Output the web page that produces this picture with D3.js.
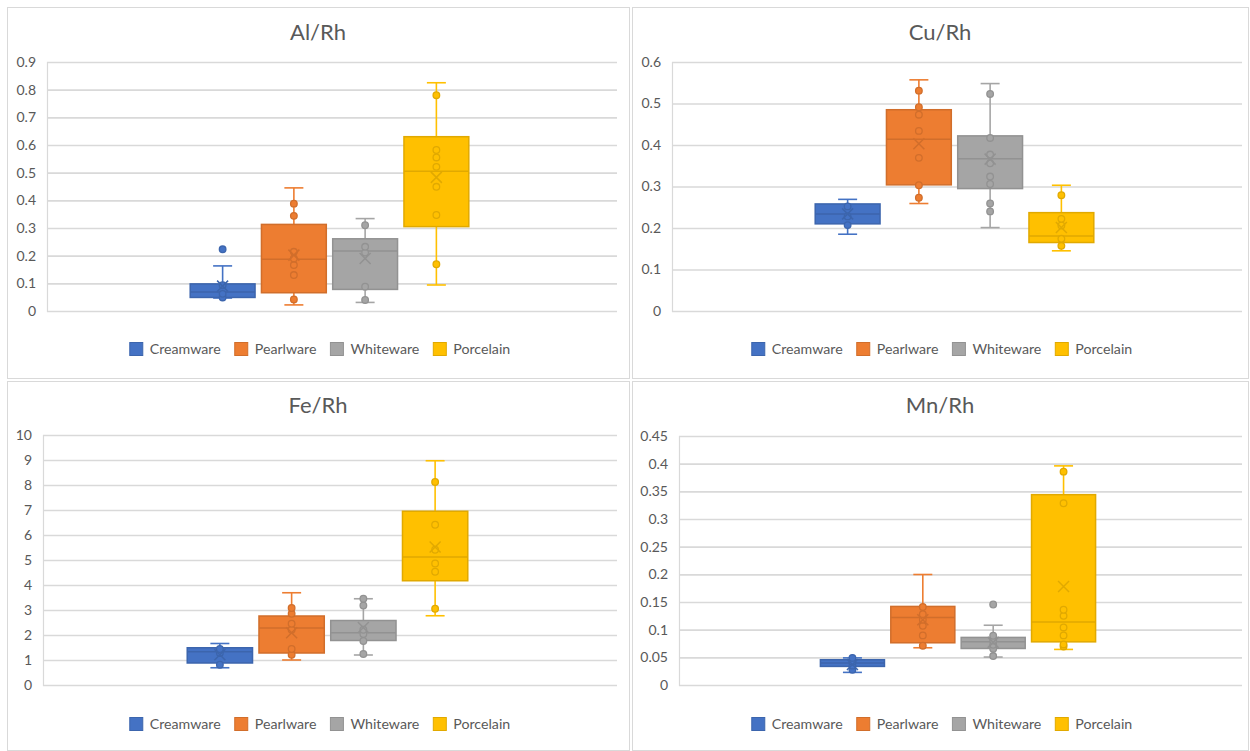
<!DOCTYPE html>
<html>
<head>
<meta charset="utf-8">
<script src="https://cdn.jsdelivr.net/npm/d3@7"></script>
<style>
  html, body { margin: 0; padding: 0; background: #ffffff; }
  svg { display: block; }
  text { font-family: Lato, "Open Sans", sans-serif; fill: #595959; }
</style>
</head>
<body>
<svg id="chart" width="1250" height="751"></svg>
<script>
// Ware types and their fill colours
const series = ["Creamware", "Pearlware", "Whiteware", "Porcelain"];
const seriesColors = ["#4472C4", "#ED7D31", "#A5A5A5", "#FFC000"];

// Box statistics per ware: [lower whisker, Q1, median, Q3, upper whisker, mean]
const alStats = [
  [0.047, 0.049, 0.069, 0.098, 0.163, 0.090],
  [0.022, 0.066, 0.187, 0.313, 0.445, 0.202],
  [0.031, 0.078, 0.217, 0.261, 0.334, 0.190],
  [0.094, 0.305, 0.505, 0.630, 0.825, 0.483]
];
const alPoints = [
  [0.049, 0.062, 0.093, 0.223],
  [0.042, 0.130, 0.166, 0.190, 0.214, 0.344, 0.388],
  [0.040, 0.088, 0.211, 0.232, 0.310],
  [0.169, 0.347, 0.449, 0.521, 0.555, 0.582, 0.780]
];

const cuStats = [
  [0.185, 0.210, 0.234, 0.258, 0.269, 0.234],
  [0.259, 0.304, 0.414, 0.485, 0.557, 0.403],
  [0.201, 0.295, 0.367, 0.422, 0.548, 0.366],
  [0.145, 0.165, 0.181, 0.237, 0.303, 0.201]
];
const cuPoints = [
  [0.207, 0.228, 0.252],
  [0.273, 0.303, 0.369, 0.434, 0.473, 0.491, 0.531],
  [0.240, 0.259, 0.306, 0.324, 0.356, 0.377, 0.417, 0.523],
  [0.157, 0.174, 0.206, 0.222, 0.279]
];

const feStats = [
  [0.69, 0.88, 1.33, 1.49, 1.66, 1.21],
  [1.00, 1.28, 2.28, 2.76, 3.69, 2.09],
  [1.20, 1.78, 2.09, 2.58, 3.45, 2.30],
  [2.77, 4.17, 5.12, 6.95, 8.97, 5.52]
];
const fePoints = [
  [0.81, 1.28, 1.44],
  [1.21, 1.44, 2.21, 2.45, 2.85, 3.08],
  [1.24, 1.76, 2.04, 2.21, 3.18, 3.45],
  [3.05, 4.53, 4.86, 5.41, 6.41, 8.12]
];

const mnStats = [
  [0.0228, 0.0336, 0.0397, 0.0457, 0.0490, 0.037],
  [0.0673, 0.0763, 0.1220, 0.1420, 0.1997, 0.118],
  [0.0505, 0.0660, 0.0780, 0.0860, 0.1080, 0.077],
  [0.0643, 0.0780, 0.1137, 0.3440, 0.3960, 0.178]
];
const mnPoints = [
  [0.0276, 0.035, 0.042, 0.049],
  [0.071, 0.0896, 0.107, 0.118, 0.128, 0.141],
  [0.0523, 0.0655, 0.0727, 0.0805, 0.089, 0.1455],
  [0.0697, 0.0733, 0.0896, 0.104, 0.125, 0.136, 0.3285, 0.3856]
];

// Axis settings: [max, step]
const alAxis = [0.9, 0.1];
const cuAxis = [0.6, 0.1];
const feAxis = [10, 1];
const mnAxis = [0.45, 0.05];

const panels = [
  { title: "Al/Rh", stats: alStats, points: alPoints, axis: alAxis,
    frame: [7, 7, 622, 371], plot: [47, 617, 62, 311], titleY: 40, legendY: 349 },
  { title: "Cu/Rh", stats: cuStats, points: cuPoints, axis: cuAxis,
    frame: [632, 7, 616, 371], plot: [672, 1242, 62, 311], titleY: 40, legendY: 349 },
  { title: "Fe/Rh", stats: feStats, points: fePoints, axis: feAxis,
    frame: [7, 381, 622, 369], plot: [43, 617, 435, 685], titleY: 413, legendY: 724 },
  { title: "Mn/Rh", stats: mnStats, points: mnPoints, axis: mnAxis,
    frame: [632, 381, 616, 369], plot: [679, 1242, 436, 685], titleY: 413, legendY: 724 }
];

const svg = d3.select("#chart");
const gridColor = "#d9d9d9";

function darker(c, k) { return d3.color(c).darker(k).formatHex(); }

panels.forEach(p => {
  const [fx, fy, fw, fh] = p.frame;
  const [left, right, top, bottom] = p.plot;
  const g = svg.append("g");

  g.append("rect")
    .attr("x", fx + 0.5).attr("y", fy + 0.5)
    .attr("width", fw).attr("height", fh)
    .attr("fill", "#fff").attr("stroke", gridColor).attr("stroke-width", 1);

  g.append("text")
    .attr("x", fx + fw / 2).attr("y", p.titleY)
    .attr("text-anchor", "middle")
    .attr("font-size", 22)
    .text(p.title);

  const [ymax, step] = p.axis;
  const y = d3.scaleLinear().domain([0, ymax]).range([bottom, top]);
  const ticks = d3.range(0, ymax + step / 2, step).map(v => +v.toFixed(4));

  // Horizontal gridlines and value labels
  const axis = d3.axisLeft(y)
    .tickValues(ticks)
    .tickSize(-(right - left))
    .tickPadding(11)
    .tickFormat(d => d3.format("~g")(d));
  const ax = g.append("g").attr("transform", `translate(${left},0)`).call(axis);
  ax.select(".domain").attr("stroke", gridColor).attr("stroke-width", 1.2);
  ax.selectAll(".tick line").attr("stroke", gridColor).attr("stroke-width", 1.6);
  ax.selectAll(".tick text")
    .attr("font-size", 14)
    .attr("font-family", "Lato, 'Open Sans', sans-serif")
    .attr("fill", "#595959");

  // Series positions inside the single category
  const W = right - left;
  const groupL = left + W * 0.25 - 2.5;
  const groupR = right - W * 0.25 - 2.5;
  const x = d3.scaleBand().domain(series).range([groupL, groupR])
    .paddingInner(0.09).paddingOuter(0.045);
  const bw = x.bandwidth();
  const capW = 19;

  series.forEach((s, i) => {
    const [lo, q1, med, q3, hi, mean] = p.stats[i];
    const col = seriesColors[i];
    const edge = darker(col, 0.35);
    const cx = x(s) + bw / 2;
    const sg = g.append("g");

    // whiskers
    sg.append("line").attr("x1", cx).attr("x2", cx).attr("y1", y(hi)).attr("y2", y(q3))
      .attr("stroke", col).attr("stroke-width", 1.6);
    sg.append("line").attr("x1", cx).attr("x2", cx).attr("y1", y(q1)).attr("y2", y(lo))
      .attr("stroke", col).attr("stroke-width", 1.6);
    [hi, lo].forEach(v => {
      sg.append("line").attr("x1", cx - capW / 2).attr("x2", cx + capW / 2)
        .attr("y1", y(v)).attr("y2", y(v))
        .attr("stroke", col).attr("stroke-width", 1.6);
    });

    // box
    sg.append("rect")
      .attr("x", x(s)).attr("y", y(q3))
      .attr("width", bw).attr("height", y(q1) - y(q3))
      .attr("fill", col).attr("stroke", edge).attr("stroke-width", 1.5);
    sg.append("line").attr("x1", x(s)).attr("x2", x(s) + bw)
      .attr("y1", y(med)).attr("y2", y(med))
      .attr("stroke", edge).attr("stroke-width", 1.5);

    // data points
    sg.selectAll("circle").data(p.points[i]).join("circle")
      .attr("cx", cx).attr("cy", d => y(d)).attr("r", 3.3)
      .attr("fill", col).attr("stroke", edge).attr("stroke-width", 1.3);

    // mean marker
    const m = 5.5;
    const my = y(mean);
    sg.append("path")
      .attr("d", `M${cx - m},${my - m}L${cx + m},${my + m}M${cx - m},${my + m}L${cx + m},${my - m}`)
      .attr("stroke", edge).attr("stroke-width", 1.5).attr("fill", "none");
  });

  // Legend centred under the panel
  const lg = g.append("g");
  const items = lg.selectAll("g").data(series).join("g");
  items.append("rect").attr("width", 13).attr("height", 13)
    .attr("fill", (d, i) => seriesColors[i])
    .attr("stroke", (d, i) => darker(seriesColors[i], 0.35)).attr("stroke-width", 1);
  items.append("text").attr("x", 20).attr("y", 11.5)
    .attr("font-size", 14.2).text(d => d);
  let cur = 0;
  items.each(function () {
    const w = 20 + d3.select(this).select("text").node().getComputedTextLength();
    d3.select(this).attr("transform", `translate(${cur},0)`);
    cur += w + 14;
  });
  const total = cur - 14;
  lg.attr("transform", `translate(${fx + fw / 2 - total / 2 + 2},${p.legendY - 6.5})`);
});
</script>
</body>
</html>
